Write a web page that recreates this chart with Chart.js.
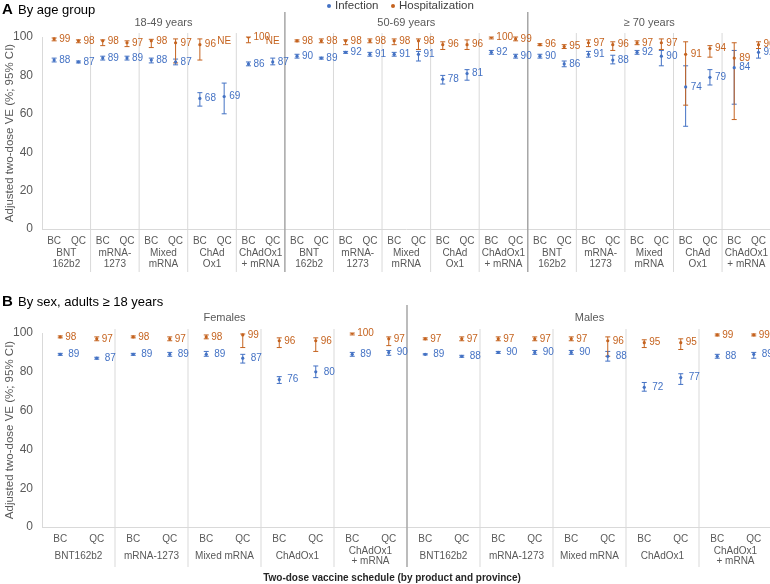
<!DOCTYPE html>
<html>
<head>
<meta charset="utf-8">
<script src="https://cdn.jsdelivr.net/npm/chart.js@4.4.1/dist/chart.umd.min.js"></script>
<style>
  body { margin: 0; width: 770px; height: 584px; overflow: hidden; background: #fff; position: relative; }
  canvas { position: absolute; left: 0; }
  #chartA { top: 0; }
  #chartB { top: 290px; }
</style>
</head>
<body>
<canvas id="chartA" width="772" height="280"></canvas>
<canvas id="chartB" width="772" height="294"></canvas>
<script>
// --- data -------------------------------------------------------------
var provinces = ["BC", "QC"];
var ageSections = ["18-49 years", "50-69 years", "\u2265 70 years"];
var sexSections = ["Females", "Males"];
var ageProducts = [["BNT", "162b2"], ["mRNA-", "1273"], ["Mixed", "mRNA"], ["ChAd", "Ox1"], ["ChAdOx1", "+ mRNA"]];
var sexProducts = [["BNT162b2"], ["mRNA-1273"], ["Mixed mRNA"], ["ChAdOx1"], ["ChAdOx1", "+ mRNA"]];
var yTicks = [0, 20, 40, 60, 80, 100];

// Panel A: by age group (section > product > province)
var ageInf = [88, 87, 89, 89, 88, 87, 68, 69, 86, 87, 90, 89, 92, 91, 91, 91, 78, 81, 92, 90, 90, 86, 91, 88, 92, 90, 74, 79, 84, 92];
var ageInfLo = [87, 86.5, 88, 88, 86.5, 85.5, 64, 60, 85, 85.5, 89, 88.5, 91.5, 90, 90, 87.5, 75.5, 77.5, 91, 89, 89, 84.5, 89.5, 86, 91, 85, 53.5, 75, 65, 89];
var ageInfHi = [89, 87.5, 90, 90, 89, 88.5, 71, 76, 87, 89, 91, 89.5, 92.5, 92, 92, 92.5, 80, 83, 93, 91, 91, 87.5, 92.5, 90.5, 93, 93, 85, 83, 93, 94];
var ageHosp = [99, 98, 98, 97, 98, 97, 96, null, 100, null, 98, 98, 98, 98, 98, 98, 96, 96, 100, 99, 96, 95, 97, 96, 97, 97, 91, 94, 89, 96];
var ageHospLo = [98, 97, 95.5, 95, 94.5, 86.5, 88, null, 97, null, 97.5, 97, 96, 97, 96, 93.5, 93.5, 93.5, 99, 98, 95.5, 94, 95, 93, 96, 93.5, 64.5, 89.5, 57, 94];
var ageHospHi = [99.5, 98.5, 98.5, 98, 98.8, 99, 99, null, 100, null, 98.5, 99, 98.5, 99, 99, 99, 97.5, 98.5, 100, 100, 96.5, 96, 98.5, 97.5, 98, 99, 97.5, 95.5, 97, 97.5];

// Panel B: by sex
var sexInf = [89, 87, 89, 89, 89, 87, 76, 80, 89, 90, 89, 88, 90, 90, 90, 88, 72, 77, 88, 89];
var sexInfLo = [88.5, 86.5, 88.5, 88, 88, 84.5, 74, 77, 88, 88.5, 88.7, 87.5, 89.5, 89, 89, 85.5, 70, 73.5, 87, 87];
var sexInfHi = [89.5, 87.5, 89.5, 90, 90.5, 89, 77.5, 83, 90, 91, 89.3, 88.5, 90.5, 91, 91, 90.5, 74.5, 79, 89, 90];
var sexHosp = [98, 97, 98, 97, 98, 99, 96, 96, 100, 97, 97, 97, 97, 97, 97, 96, 95, 95, 99, 99];
var sexHospLo = [97.5, 96, 97.5, 96, 97, 92.5, 92.5, 90.5, 99, 93.5, 96.5, 96, 96, 96, 96, 88, 92.5, 91.5, 98.5, 98.5];
var sexHospHi = [98.5, 98, 98.5, 98, 99, 99.5, 97.5, 97.5, 100, 98, 97.5, 98, 98, 98, 98, 98, 96.5, 97, 99.5, 99.5];

// --- styling ----------------------------------------------------------
var FONT = '"Liberation Sans", Arial, sans-serif';
var BLUE = "#4472c4";
var ORANGE = "#c5631f";
var GRAY_TEXT = "#595959";

Chart.defaults.font.family = FONT;

function buildLabels(sectionCount, productCount) {
  var out = [];
  for (var s = 0; s < sectionCount; s++) {
    for (var p = 0; p < productCount; p++) {
      provinces.forEach(function (prov) { out.push(prov); });
    }
  }
  return out;
}

function drawErrorBars(ctx, xs, ys, ds) {
  ctx.strokeStyle = ds.color;
  ctx.lineWidth = 1;
  ds.lo.forEach(function (lo, i) {
    if (lo == null) return;
    var px = xs.getPixelForValue(i);
    var y1 = ys.getPixelForValue(lo);
    var y2 = ys.getPixelForValue(ds.hi[i]);
    ctx.beginPath();
    ctx.moveTo(px, y1); ctx.lineTo(px, y2);
    ctx.moveTo(px - 2.5, y1); ctx.lineTo(px + 2.5, y1);
    ctx.moveTo(px - 2.5, y2); ctx.lineTo(px + 2.5, y2);
    ctx.stroke();
  });
}

function framePlugin(cfg) {
  return {
    id: "frame",
    beforeDatasetsDraw: function (chart) {
      var ctx = chart.ctx, xs = chart.scales.x, ys = chart.scales.y, area = chart.chartArea;
      var n = chart.data.labels.length;
      var step = xs.getPixelForValue(1) - xs.getPixelForValue(0);
      var perSection = cfg.products.length * provinces.length;
      ctx.save();
      // product / section separators
      for (var i = provinces.length; i < n; i += provinces.length) {
        var bx = xs.getPixelForValue(i) - step / 2;
        var major = i % perSection === 0;
        ctx.strokeStyle = major ? "#a6a6a6" : "#d9d9d9";
        ctx.lineWidth = major ? 1.5 : 1;
        ctx.beginPath();
        ctx.moveTo(bx, major ? cfg.majorTop : area.top - 4);
        ctx.lineTo(bx, cfg.lineBottom);
        ctx.stroke();
      }
      // confidence intervals
      chart.data.datasets.forEach(function (ds) { drawErrorBars(ctx, xs, ys, ds); });
      ctx.restore();
    },
    afterDatasetsDraw: function (chart) {
      var ctx = chart.ctx, xs = chart.scales.x, ys = chart.scales.y;
      ctx.save();
      ctx.font = "10px " + FONT;
      ctx.textBaseline = "middle";
      chart.data.datasets.forEach(function (ds) {
        ctx.fillStyle = ds.color;
        ds.data.forEach(function (v, i) {
          var px = xs.getPixelForValue(i);
          if (v == null) {
            ctx.textAlign = "center";
            ctx.fillText("NE", px, ys.getPixelForValue(98));
            return;
          }
          ctx.textAlign = "left";
          ctx.fillText(String(v), px + ds.labelOffset, ys.getPixelForValue(v));
        });
      });
      ctx.restore();
    },
    afterDraw: function (chart) {
      var ctx = chart.ctx, xs = chart.scales.x, area = chart.chartArea;
      var perSection = cfg.products.length * provinces.length;
      ctx.save();
      ctx.textBaseline = "middle";

      // panel title
      ctx.fillStyle = "#000";
      ctx.textAlign = "left";
      ctx.font = "bold 15px " + FONT;
      ctx.fillText(cfg.title[0], 2, cfg.titleY);
      ctx.font = "13px " + FONT;
      ctx.fillText(cfg.title[1], 18, cfg.titleY);

      // legend
      if (cfg.legend) {
        ctx.font = "11.5px " + FONT;
        [[BLUE, "Infection", 329], [ORANGE, "Hospitalization", 393]].forEach(function (it) {
          ctx.fillStyle = it[0];
          ctx.beginPath();
          ctx.arc(it[2], 6, 2, 0, Math.PI * 2);
          ctx.fill();
          ctx.fillStyle = "#404040";
          ctx.fillText(it[1], it[2] + 6, 6);
        });
      }

      // section headings
      ctx.textAlign = "center";
      ctx.fillStyle = GRAY_TEXT;
      ctx.font = "11px " + FONT;
      cfg.sections.forEach(function (name, s) {
        var cx = (xs.getPixelForValue(s * perSection) + xs.getPixelForValue((s + 1) * perSection - 1)) / 2;
        ctx.fillText(name, cx, area.top - cfg.sectionGap);
      });

      // product labels under the province ticks
      ctx.font = "10px " + FONT;
      cfg.sections.forEach(function (name, s) {
        cfg.products.forEach(function (lines, p) {
          var first = (s * cfg.products.length + p) * provinces.length;
          var cx = (xs.getPixelForValue(first) + xs.getPixelForValue(first + provinces.length - 1)) / 2;
          var y0 = cfg.productY - (lines.length - 1) * cfg.lineH / 2;
          lines.forEach(function (t, k) { ctx.fillText(t, cx, y0 + k * cfg.lineH); });
        });
      });

      // x title
      if (cfg.xTitle) {
        ctx.font = "bold 10px " + FONT;
        ctx.fillStyle = "#262626";
        ctx.fillText(cfg.xTitle, (area.left + area.right) / 2 - 15, cfg.xTitleY);
      }

      // y title
      ctx.translate(10, (area.top + area.bottom) / 2);
      ctx.rotate(-Math.PI / 2);
      ctx.font = "11.5px " + FONT;
      ctx.fillStyle = GRAY_TEXT;
      ctx.fillText("Adjusted two-dose VE (%; 95% CI)", 0, 0);
      ctx.restore();
    }
  };
}

function makeChart(id, cfg) {
  var labels = buildLabels(cfg.sections.length, cfg.products.length);
  return new Chart(document.getElementById(id), {
    type: "line",
    data: {
      labels: labels,
      datasets: [
        { label: "Infection", data: cfg.inf, lo: cfg.infLo, hi: cfg.infHi, color: BLUE, labelOffset: cfg.infOffset,
          showLine: false, pointRadius: 1.6, pointBorderWidth: 0, pointBackgroundColor: BLUE },
        { label: "Hospitalization", data: cfg.hosp, lo: cfg.hospLo, hi: cfg.hospHi, color: ORANGE, labelOffset: cfg.hospOffset,
          showLine: false, pointRadius: 1.6, pointBorderWidth: 0, pointBackgroundColor: ORANGE }
      ]
    },
    options: {
      responsive: false,
      animation: false,
      events: [],
      layout: { padding: { top: cfg.padTop, left: 0, right: 0, bottom: 0 }, autoPadding: false },
      plugins: { legend: { display: false }, tooltip: { enabled: false } },
      scales: {
        x: {
          type: "category",
          offset: true,
          grid: { display: false, drawTicks: false },
          border: { color: "#d9d9d9" },
          ticks: { autoSkip: false, maxRotation: 0, color: GRAY_TEXT, font: { size: 10 }, padding: 6 },
          afterFit: function (s) { s.height = cfg.xHeight; }
        },
        y: {
          min: 0,
          max: 100,
          grid: { display: false, drawTicks: false },
          border: { color: "#d9d9d9" },
          afterBuildTicks: function (s) { s.ticks = yTicks.map(function (v) { return { value: v }; }); },
          ticks: { color: GRAY_TEXT, font: { size: 12 }, padding: 9 },
          afterFit: function (s) { s.width = 42; }
        }
      }
    },
    plugins: [framePlugin(cfg)]
  });
}

makeChart("chartA", {
  sections: ageSections, products: ageProducts,
  inf: ageInf, infLo: ageInfLo, infHi: ageInfHi,
  hosp: ageHosp, hospLo: ageHospLo, hospHi: ageHospHi,
  padTop: 37, xHeight: 51,
  title: ["A", "By age group"], titleY: 10, legend: true,
  sectionGap: 14, majorTop: 12, lineBottom: 272,
  productY: 258.5, lineH: 11,
  infOffset: 5, hospOffset: 5
});

makeChart("chartB", {
  sections: sexSections, products: sexProducts,
  inf: sexInf, infLo: sexInfLo, infHi: sexInfHi,
  hosp: sexHosp, hospLo: sexHospLo, hospHi: sexHospHi,
  padTop: 43, xHeight: 57,
  title: ["B", "By sex, adults \u2265 18 years"], titleY: 12, legend: false,
  sectionGap: 15, majorTop: 15, lineBottom: 277,
  productY: 266, lineH: 10,
  infOffset: 8, hospOffset: 5,
  xTitle: "Two-dose vaccine schedule (by product and province)", xTitleY: 288
});
</script>
</body>
</html>
